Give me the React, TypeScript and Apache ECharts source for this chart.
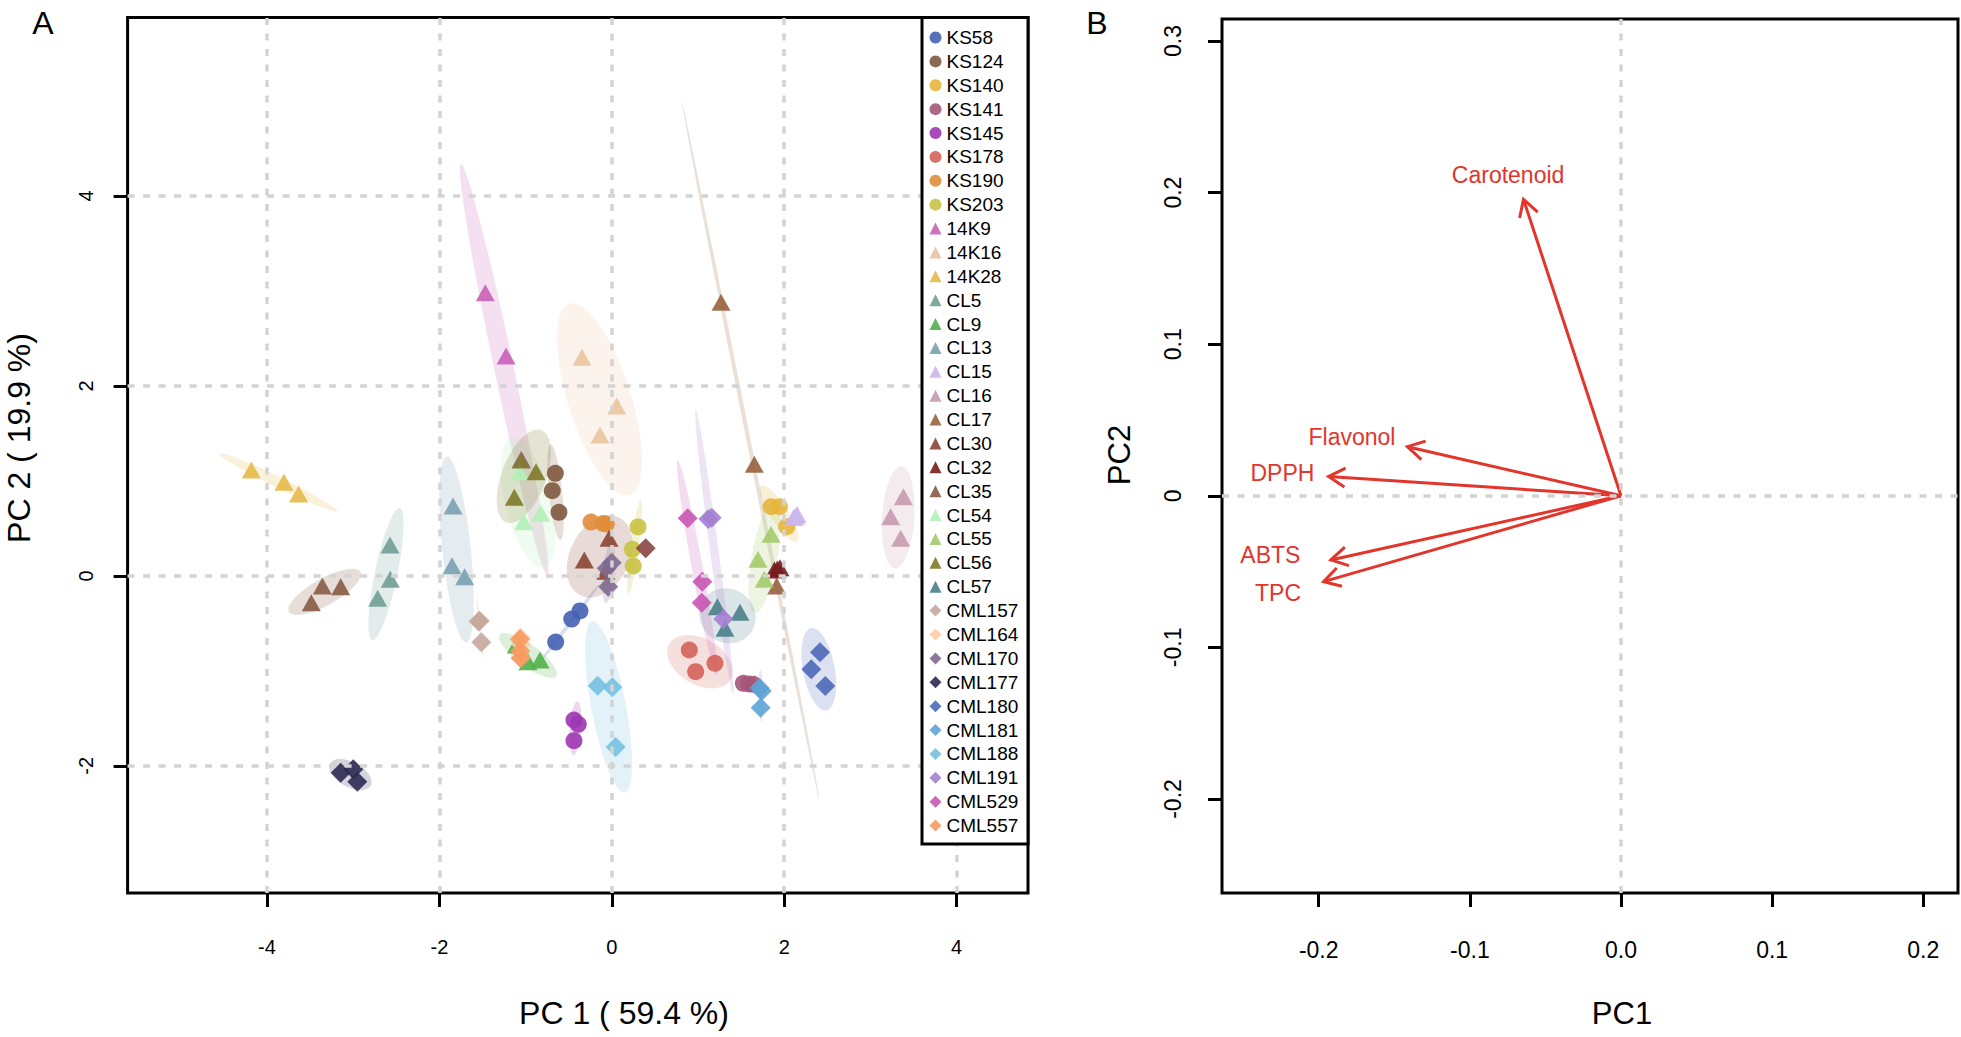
import React, { useEffect, useRef } from "react";
import * as echarts from "echarts";

const FONT = '"Liberation Sans", Arial, Helvetica, sans-serif';

// ---------------- Panel A : PCA scores ----------------
const groupNames = [
  "KS58", "KS124", "KS140", "KS141", "KS145", "KS178", "KS190", "KS203",
  "14K9", "14K16", "14K28",
  "CL5", "CL9", "CL13", "CL15", "CL16", "CL17", "CL30", "CL32", "CL35", "CL54", "CL55", "CL56", "CL57",
  "CML157", "CML164", "CML170", "CML177", "CML180", "CML181", "CML188", "CML191", "CML529", "CML557",
];
const groupShapes = [
  "circle", "circle", "circle", "circle", "circle", "circle", "circle", "circle",
  "triangle", "triangle", "triangle",
  "triangle", "triangle", "triangle", "triangle", "triangle", "triangle", "triangle", "triangle", "triangle", "triangle", "triangle", "triangle", "triangle",
  "diamond", "diamond", "diamond", "diamond", "diamond", "diamond", "diamond", "diamond", "diamond", "diamond",
];
const groupColors = [
  "#4462B3", "#80593F", "#E5B53B", "#A4567A", "#9E36B3", "#D4625A", "#E18D3B", "#C9C242",
  "#C862B7", "#EAC4A0", "#E6BA48",
  "#6F9E95", "#52B04B", "#78A1B0", "#CBB6EC", "#C79AAF", "#98623E", "#8A4535", "#771C1C", "#875B45", "#B2EFB7", "#A3CB6C", "#7E7A2A", "#4A7F8B",
  "#C8A89D", "#FDCDA8", "#7F6A91", "#2D2A52", "#4B69B7", "#5EA3D6", "#74C0DF", "#A47FD4", "#C756B2", "#F79A60",
];

const KS58 = [[-0.651, -0.696], [-0.465, -0.454], [-0.369, -0.369]];
const KS124 = [[-0.655, 1.08], [-0.691, 0.897], [-0.613, 0.669]];
const KS140 = [[1.846, 0.728], [1.944, 0.728], [2.029, 0.518]];
const KS141 = [[1.526, -1.131], [1.59, -1.138], [1.642, -1.141]];
const KS145 = [[-0.439, -1.517], [-0.389, -1.562], [-0.439, -1.735]];
const KS178 = [[0.899, -0.78], [1.197, -0.92], [0.973, -1.008]];
const KS190 = [[-0.241, 0.567], [-0.1, 0.552], [-0.064, 0.546]];
const KS203 = [[0.304, 0.515], [0.238, 0.28], [0.249, 0.104]];
const K14K9 = [[-1.468, 2.981], [-1.227, 2.315], [-1.05, 1.227]];
const K14K16 = [[-0.346, 2.301], [0.057, 1.788], [-0.137, 1.483]];
const K14K28 = [[-4.182, 1.115], [-3.803, 0.985], [-3.633, 0.862]];
const CL5 = [[-2.573, 0.325], [-2.57, -0.036], [-2.716, -0.236]];
const CL9 = [[-1.108, -0.727], [-0.972, -0.903], [-0.833, -0.885]];
const CL13 = [[-1.842, 0.736], [-1.854, 0.107], [-1.707, -0.008]];
const CL15 = [[2.133, 0.631], [2.11, 0.615], [2.15, 0.645]];
const CL16 = [[3.382, 0.834], [3.235, 0.623], [3.351, 0.396]];
const CL17 = [[1.267, 2.88], [1.653, 1.175], [1.913, -0.106]];
const CL30 = [[-0.319, 0.167], [-0.032, 0.396], [-0.07, 0.05]];
const CL32 = [[1.886, 0.062], [1.951, 0.086], [1.92, 0.072]];
const CL35 = [[-3.358, -0.106], [-3.145, -0.114], [-3.486, -0.282]];
const CL54 = [[-1.069, 1.097], [-0.825, 0.659], [-1.022, 0.571]];
const CL55 = [[1.847, 0.438], [1.696, 0.175], [1.769, -0.036]];
const CL56 = [[-1.05, 1.22], [-0.879, 1.097], [-1.131, 0.827]];
const CL57 = [[1.224, -0.324], [1.487, -0.383], [1.313, -0.552]];
const CML157 = [[-1.533, -0.472], [-1.545, -0.48], [-1.514, -0.699]];
const CML164 = [[-1.06, -0.65], [-1.062, -0.86], [-1.055, -0.72]];
const CML170 = [[-0.001, 0.139], [-0.059, 0.08], [-0.041, -0.114]];
const CML177 = [[-3.145, -2.071], [-2.999, -2.036], [-2.952, -2.166]];
const CML180 = [[2.415, -0.804], [2.314, -0.983], [2.477, -1.159]];
const CML181 = [[1.739, -1.212], [1.727, -1.387], [1.715, -1.18]];
const CML188 = [[-0.164, -1.156], [0.006, -1.173], [0.045, -1.801]];
const CML191 = [[1.12, 0.599], [1.159, 0.613], [1.294, -0.454]];
const CML529 = [[0.88, 0.606], [1.05, -0.061], [1.043, -0.282]];
const CML557 = [[-1.065, -0.667], [-1.057, -0.867], [-1.062, -0.79]];
const unlabeledDiamond = [[0.393, 0.29]];

const groupPoints = [
  KS58, KS124, KS140, KS141, KS145, KS178, KS190, KS203,
  K14K9, K14K16, K14K28,
  CL5, CL9, CL13, CL15, CL16, CL17, CL30, CL32, CL35, CL54, CL55, CL56, CL57,
  CML157, CML164, CML170, CML177, CML180, CML181, CML188, CML191, CML529, CML557,
];

const pc1TicksA = [-4, -2, 0, 2, 4];
const pc1TickLabelsA = ["-4", "-2", "0", "2", "4"];
const pc2TicksA = [-2, 0, 2, 4];
const pc2TickLabelsA = ["-2", "0", "2", "4"];

// ---------------- Panel B : loadings ----------------
const variables = ["Carotenoid", "Flavonol", "DPPH", "ABTS", "TPC"];
const loadingPC1 = [-0.0645, -0.1413, -0.1935, -0.192, -0.1968];
const loadingPC2 = [0.1955, 0.0324, 0.0127, -0.0423, -0.0566];
const labelPC1 = [-0.0747, -0.178, -0.224, -0.232, -0.2269];
const labelPC2 = [0.2113, 0.0388, 0.0153, -0.0392, -0.0638];

const pc1TicksB = [-0.2, -0.1, 0, 0.1, 0.2];
const pc1TickLabelsB = ["-0.2", "-0.1", "0.0", "0.1", "0.2"];
const pc2TicksB = [-0.2, -0.1, 0, 0.1, 0.2, 0.3];
const pc2TickLabelsB = ["-0.2", "-0.1", "0", "0.1", "0.2", "0.3"];

const RED = "#E2352B";
const GRID_GRAY = "#D3D3D3";
const CHI2_95 = Math.sqrt(5.991464547);

function labelFor(ticks: number[], labels: string[]) {
  return (v: number) => {
    const i = ticks.findIndex((t) => Math.abs(t - v) < 1e-6);
    return i >= 0 ? labels[i] : "";
  };
}

function textEl(text: string, x: number, y: number, size: number, rotation = 0) {
  return {
    type: "text", x, y, rotation,
    style: { text, fontSize: size, fontFamily: FONT, fill: "#000", align: "center", verticalAlign: "middle", textAlign: "center", textVerticalAlign: "middle" },
  };
}

function buildOption() {
  const tickStyle = { color: "#000", width: 3 };
  const ellipseData = groupPoints.map((pts, i) => {
    const mx = pts.reduce((s, p) => s + p[0], 0) / pts.length;
    const my = pts.reduce((s, p) => s + p[1], 0) / pts.length;
    return [mx, my, i];
  });

  const scatterSeries = groupNames.map((name, i) => ({
    type: "scatter",
    name,
    xAxisIndex: 0,
    yAxisIndex: 0,
    symbol: groupShapes[i],
    symbolSize: groupShapes[i] === "circle" ? 17 : groupShapes[i] === "triangle" ? [19, 17] : [20, 20],
    data: groupPoints[i],
    itemStyle: { color: groupColors[i], opacity: 0.9 },
    z: 3,
    silent: true,
  }));

  const hiddenLine = { show: false, onZero: false };

  return {
    animation: false,
    backgroundColor: "#fff",
    textStyle: { fontFamily: FONT },
    grid: [
      { left: 127.6, top: 17.5, width: 900.4, height: 875.5, show: true, borderColor: "#000", borderWidth: 3, backgroundColor: "transparent" },
      { left: 1222, top: 19, width: 736, height: 874, show: true, borderColor: "#000", borderWidth: 3, backgroundColor: "transparent" },
    ],
    xAxis: [
      {
        type: "value", gridIndex: 0, position: "bottom", min: -5.617, max: 4.828, splitNumber: 5,
        axisLine: hiddenLine,
        axisTick: { show: true, inside: false, length: 14, lineStyle: tickStyle, customValues: pc1TicksA },
        axisLabel: { customValues: pc1TicksA, fontSize: 20, color: "#000", margin: 44, fontFamily: FONT, formatter: labelFor(pc1TicksA, pc1TickLabelsA) },
        splitLine: { show: false },
      },
      {
        type: "value", gridIndex: 1, position: "bottom", min: -0.264, max: 0.223, splitNumber: 5,
        axisLine: hiddenLine,
        axisTick: { show: true, inside: false, length: 14, lineStyle: tickStyle, customValues: pc1TicksB },
        axisLabel: { customValues: pc1TicksB, fontSize: 23, color: "#000", margin: 45, fontFamily: FONT, formatter: labelFor(pc1TicksB, pc1TickLabelsB) },
        splitLine: { show: false },
      },
    ],
    yAxis: [
      {
        type: "value", gridIndex: 0, position: "left", min: -3.338, max: 5.878, splitNumber: 5,
        axisLine: hiddenLine,
        axisTick: { show: true, inside: false, length: 14, lineStyle: tickStyle, customValues: pc2TicksA },
        axisLabel: { customValues: pc2TicksA, rotate: 90, fontSize: 20, color: "#000", margin: 32, fontFamily: FONT, formatter: labelFor(pc2TicksA, pc2TickLabelsA) },
        splitLine: { show: false },
      },
      {
        type: "value", gridIndex: 1, position: "left", min: -0.262, max: 0.3145, splitNumber: 5,
        axisLine: hiddenLine,
        axisTick: { show: true, inside: false, length: 14, lineStyle: tickStyle, customValues: pc2TicksB },
        axisLabel: { customValues: pc2TicksB, rotate: 90, fontSize: 23, color: "#000", margin: 38, fontFamily: FONT, formatter: labelFor(pc2TicksB, pc2TickLabelsB) },
        splitLine: { show: false },
      },
    ],
    legend: {
      data: groupNames,
      orient: "vertical",
      left: 922,
      top: 17.5,
      itemWidth: 12,
      itemHeight: 12,
      itemGap: 4.88,
      padding: [10.5, 9.7, 9, 7.5],
      backgroundColor: "#fff",
      borderColor: "#000",
      borderWidth: 3,
      borderRadius: 0,
      selectedMode: false,
      z: 10,
      textStyle: { fontSize: 19, lineHeight: 19, color: "#000", fontFamily: FONT },
    },
    graphic: [
      textEl("A", 43, 23, 32),
      textEl("B", 1097, 23, 32),
      textEl("PC 1 ( 59.4 %)", 624, 1013, 32),
      textEl("PC 2 ( 19.9 %)", 19, 438, 32, Math.PI / 2),
      textEl("PC1", 1622, 1013, 31),
      textEl("PC2", 1119, 455, 31, Math.PI / 2),
    ],
    series: [
      {
        type: "scatter", name: "gridA", xAxisIndex: 0, yAxisIndex: 0, data: [], silent: true, z: 1,
        markLine: {
          silent: true, symbol: ["none", "none"], label: { show: false }, animation: false,
          lineStyle: { color: GRID_GRAY, width: 3.5, type: [7, 8.5] },
          data: [...pc1TicksA.map((v) => ({ xAxis: v })), ...pc2TicksA.map((v) => ({ yAxis: v }))],
        },
      },
      {
        type: "custom", name: "ellipses", xAxisIndex: 0, yAxisIndex: 0, z: 2, silent: true,
        data: ellipseData,
        renderItem: (params: any, api: any) => {
          const gi = api.value(2);
          const pts = groupPoints[gi].map((p) => api.coord(p));
          const n = pts.length;
          const mx = pts.reduce((s: number, p: number[]) => s + p[0], 0) / n;
          const my = pts.reduce((s: number, p: number[]) => s + p[1], 0) / n;
          let sxx = 0, syy = 0, sxy = 0;
          pts.forEach((p: number[]) => {
            sxx += (p[0] - mx) * (p[0] - mx);
            syy += (p[1] - my) * (p[1] - my);
            sxy += (p[0] - mx) * (p[1] - my);
          });
          sxx /= n - 1; syy /= n - 1; sxy /= n - 1;
          const tr = (sxx + syy) / 2;
          const d = Math.sqrt(((sxx - syy) / 2) ** 2 + sxy * sxy);
          const l1 = tr + d;
          const l2 = Math.max(tr - d, 0);
          const theta = 0.5 * Math.atan2(2 * sxy, sxx - syy);
          return {
            type: "ellipse",
            x: mx, y: my, rotation: -theta,
            shape: { cx: 0, cy: 0, rx: CHI2_95 * Math.sqrt(l1), ry: Math.max(CHI2_95 * Math.sqrt(l2), 0.6) },
            style: { fill: groupColors[gi], opacity: 0.2 },
          };
        },
      },
      ...scatterSeries,
      {
        type: "scatter", name: "unlabeled", xAxisIndex: 0, yAxisIndex: 0, symbol: "diamond", symbolSize: [20, 20],
        data: unlabeledDiamond, itemStyle: { color: "#8A4542", opacity: 0.9 }, z: 3, silent: true,
      },
      {
        type: "scatter", name: "gridB", xAxisIndex: 1, yAxisIndex: 1, data: [], silent: true, z: 1,
        markLine: {
          silent: true, symbol: ["none", "none"], label: { show: false }, animation: false,
          lineStyle: { color: GRID_GRAY, width: 3.5, type: [7, 8.5] },
          data: [{ xAxis: 0 }, { yAxis: 0 }],
        },
      },
      {
        type: "custom", name: "loadings", xAxisIndex: 1, yAxisIndex: 1, z: 3, silent: true,
        data: variables.map((_, i) => [loadingPC1[i], loadingPC2[i], labelPC1[i], labelPC2[i], i]),
        renderItem: (params: any, api: any) => {
          const idx = api.value(4);
          const o = api.coord([0, 0]);
          const t = api.coord([api.value(0), api.value(1)]);
          const l = api.coord([api.value(2), api.value(3)]);
          const ang = Math.atan2(t[1] - o[1], t[0] - o[0]);
          const L = 19, a = Math.PI / 6;
          const p1 = [t[0] - L * Math.cos(ang - a), t[1] - L * Math.sin(ang - a)];
          const p2 = [t[0] - L * Math.cos(ang + a), t[1] - L * Math.sin(ang + a)];
          return {
            type: "group",
            children: [
              { type: "line", shape: { x1: o[0], y1: o[1], x2: t[0], y2: t[1] }, style: { stroke: RED, lineWidth: 3 } },
              { type: "polyline", shape: { points: [p1, t, p2] }, style: { stroke: RED, lineWidth: 3, fill: null } },
              {
                type: "text", x: l[0], y: l[1],
                style: { text: variables[idx], fill: RED, fontSize: 23, fontFamily: FONT, align: "center", verticalAlign: "middle", textAlign: "center", textVerticalAlign: "middle" },
              },
            ],
          };
        },
      },
    ],
  };
}

export default function App() {
  const ref = useRef<HTMLDivElement>(null);
  useEffect(() => {
    document.body.style.margin = "0";
    const chart = echarts.init(ref.current as HTMLDivElement, undefined, { renderer: "svg" });
    chart.setOption(buildOption() as any);
    return () => chart.dispose();
  }, []);
  return <div ref={ref} style={{ width: 1961, height: 1037, background: "#fff" }} />;
}
